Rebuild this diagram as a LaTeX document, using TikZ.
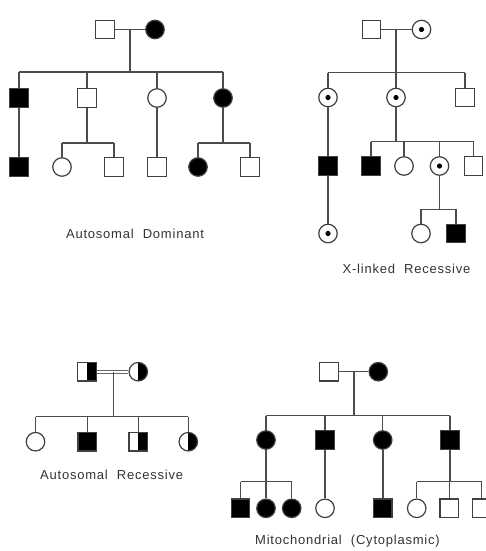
\documentclass[tikz,border=0pt]{standalone}
\usepackage{fontspec}
\setmainfont{Liberation Sans}
\newfontfamily\lblfont[LetterSpace=6]{Liberation Sans}
\begin{document}
\begin{tikzpicture}[x=1pt,y=-1pt,
  sym/.style={draw=black!75, line width=1.2pt, inner sep=0pt, minimum size=18.5pt},
  male/.style={sym, rectangle},
  female/.style={sym, circle},
  aff/.style={fill=black},
  carrier/.style={female, path picture={\fill[black] (path picture bounding box.center) circle (2.6pt);}},
  halfaff/.style={path picture={\fill[black] (path picture bounding box.north) rectangle (path picture bounding box.south east);}},
  link/.style={draw=black!70, line width=1.2pt},
  lbl/.style={font=\lblfont\fontsize{13}{14}\selectfont, text=black!80, inner sep=0pt}
]
\useasboundingbox (0,0) rectangle (486,551);
\clip (0,0) rectangle (486,551);
\fill[white] (0,0) rectangle (486,551);

% ---------- Autosomal dominant ----------
\node[male] (d1f) at (105,29.5) {};
\node[female, aff] (d1m) at (155,29.5) {};
\coordinate (d1c) at (130,29.5);
\coordinate (d1s) at (130,72);
\coordinate (d1sl) at (19,72);
\coordinate (d1sr) at (223,72);
\node[male, aff] (d2a) at (19,98) {};
\node[male] (d2b) at (87,98) {};
\node[female] (d2c) at (157,98) {};
\node[female, aff] (d2d) at (223,98) {};
\coordinate (d2bs) at (87,143);
\coordinate (d2bl) at (62,143);
\coordinate (d2br) at (114,143);
\coordinate (d2ds) at (223,143);
\coordinate (d2dl) at (198,143);
\coordinate (d2dr) at (250,143);
\node[male, aff] (d3a) at (19,167) {};
\node[female] (d3b) at (62,167) {};
\node[male] (d3c) at (114,167) {};
\node[male] (d3d) at (157,167) {};
\node[female, aff] (d3e) at (198,167) {};
\node[male] (d3f) at (250,167) {};
\draw[link] (d1f) -- (d1m);
\draw[link] (d1c) -- (d1s);
\draw[link] (d1sl) -- (d1sr);
\foreach \k in {d2a,d2b,d2c,d2d} \draw[link] (\k |- d1s) -- (\k.north);
\draw[link] (d2a) -- (d3a);
\draw[link] (d2b) -- (d2bs);
\draw[link] (d2bl) -- (d2br);
\draw[link] (d2bl) -- (d3b.north);
\draw[link] (d2br) -- (d3c.north);
\draw[link] (d2c) -- (d3d);
\draw[link] (d2d) -- (d2ds);
\draw[link] (d2dl) -- (d2dr);
\draw[link] (d2dl) -- (d3e.north);
\draw[link] (d2dr) -- (d3f.north);
\node[lbl] (dlab) at (135,234) {Autosomal\hspace{0.7em}Dominant};

% ---------- X-linked recessive ----------
\node[male] (x1f) at (371.5,29.5) {};
\node[carrier] (x1m) at (421.5,29.5) {};
\coordinate (x1c) at (396,29.5);
\coordinate (x1s) at (396,72.5);
\coordinate (x1sl) at (328,72.5);
\coordinate (x1sr) at (465,72.5);
\node[carrier] (x2a) at (328,97.5) {};
\node[carrier] (x2b) at (396,97.5) {};
\node[male] (x2c) at (465,97.5) {};
\node[male, aff] (x3a) at (328,166) {};
\node[carrier] (x4a) at (328,233.5) {};
\coordinate (x2bs) at (396,141.7);
\coordinate (x2bl) at (371,141.7);
\coordinate (x2br) at (473.5,141.7);
\node[male, aff] (x3b) at (371,166) {};
\node[female] (x3c) at (404,166) {};
\node[carrier] (x3d) at (439.5,166) {};
\node[male] (x3e) at (473.5,166) {};
\coordinate (x3ds) at (439.5,209.3);
\coordinate (x3dl) at (421,209.3);
\coordinate (x3dr) at (456,209.3);
\node[female] (x4b) at (421,233.5) {};
\node[male, aff] (x4c) at (456,233.5) {};
\draw[link] (x1f) -- (x1m);
\draw[link] (x1c) -- (x1s);
\draw[link] (x1sl) -- (x1sr);
\foreach \k in {x2a,x2b,x2c} \draw[link] (\k |- x1s) -- (\k.north);
\draw[link] (x2a) -- (x3a);
\draw[link] (x3a) -- (x4a);
\draw[link] (x2b) -- (x2bs);
\draw[link] (x2bl) -- (x2br);
\foreach \k in {x3b,x3c,x3d,x3e} \draw[link] (\k |- x2bs) -- (\k.north);
\draw[link] (x3d) -- (x3ds);
\draw[link] (x3dl) -- (x3dr);
\draw[link] (x3dl) -- (x4b.north);
\draw[link] (x3dr) -- (x4c.north);
\node[lbl] (xlab) at (406.5,268.5) {X-linked\hspace{0.7em}Recessive};

% ---------- Autosomal recessive ----------
\node[male, halfaff] (r1f) at (87,371.7) {};
\node[female, halfaff] (r1m) at (138.3,371.7) {};
\coordinate (r1c) at (113.3,371.7);
\coordinate (r1s) at (113.3,416.7);
\coordinate (r1sl) at (35.5,416.7);
\coordinate (r1sr) at (188.3,416.7);
\node[female] (r2a) at (35.5,441.7) {};
\node[male, aff] (r2b) at (87.3,441.7) {};
\node[male, halfaff] (r2c) at (138.3,441.7) {};
\node[female, halfaff] (r2d) at (188.3,441.7) {};
\draw[draw=black!60, line width=1pt, double=white, double distance=2pt] (r1f) -- (r1m);
\draw[link] (r1c) -- (r1s);
\draw[link] (r1sl) -- (r1sr);
\foreach \k in {r2a,r2b,r2c,r2d} \draw[link] (\k |- r1s) -- (\k.north);
\node[lbl] (rlab) at (111.7,475) {Autosomal\hspace{0.7em}Recessive};

% ---------- Mitochondrial ----------
\node[male] (m1f) at (329,371.7) {};
\node[female, aff] (m1m) at (378.3,371.7) {};
\coordinate (m1c) at (354,371.7);
\coordinate (m1s) at (354,415.7);
\coordinate (m1sl) at (266,415.7);
\coordinate (m1sr) at (450,415.7);
\node[female, aff] (m2a) at (266,440) {};
\node[male, aff] (m2b) at (325,440) {};
\node[female, aff] (m2c) at (382.7,440) {};
\node[male, aff] (m2d) at (450,440) {};
\coordinate (m2as) at (266,481.7);
\coordinate (m2al) at (240.5,481.7);
\coordinate (m2ar) at (291.7,481.7);
\coordinate (m2ds) at (450,481.7);
\coordinate (m2dl) at (416.7,481.7);
\coordinate (m2dr) at (481.7,481.7);
\node[male, aff] (m3a) at (240.5,508.3) {};
\node[female, aff] (m3b) at (266,508.3) {};
\node[female, aff] (m3c) at (291.7,508.3) {};
\node[female] (m3d) at (325,508.3) {};
\node[male, aff] (m3e) at (382.7,508.3) {};
\node[female] (m3f) at (416.7,508.3) {};
\node[male] (m3g) at (449.3,508.3) {};
\node[male] (m3h) at (481.7,508.3) {};
\draw[link] (m1f) -- (m1m);
\draw[link] (m1c) -- (m1s);
\draw[link] (m1sl) -- (m1sr);
\foreach \k in {m2a,m2b,m2c,m2d} \draw[link] (\k |- m1s) -- (\k.north);
\draw[link] (m2a) -- (m3b);
\draw[link] (m2al) -- (m2ar);
\draw[link] (m2al) -- (m3a.north);
\draw[link] (m2ar) -- (m3c.north);
\draw[link] (m2b) -- (m3d);
\draw[link, line width=1.6pt] (m2c) -- (m3e);
\draw[link] (m2d) -- (m2ds);
\draw[link] (m2dl) -- (m2dr);
\draw[link] (m2dl) -- (m3f.north);
\draw[link] (m3g |- m2ds) -- (m3g.north);
\draw[link] (m2dr) -- (m3h.north);
\node[lbl] (mlab) at (347.5,541.5) {Mitochondrial\hspace{0.7em}(Cytoplasmic)};
\end{tikzpicture}
\end{document}
